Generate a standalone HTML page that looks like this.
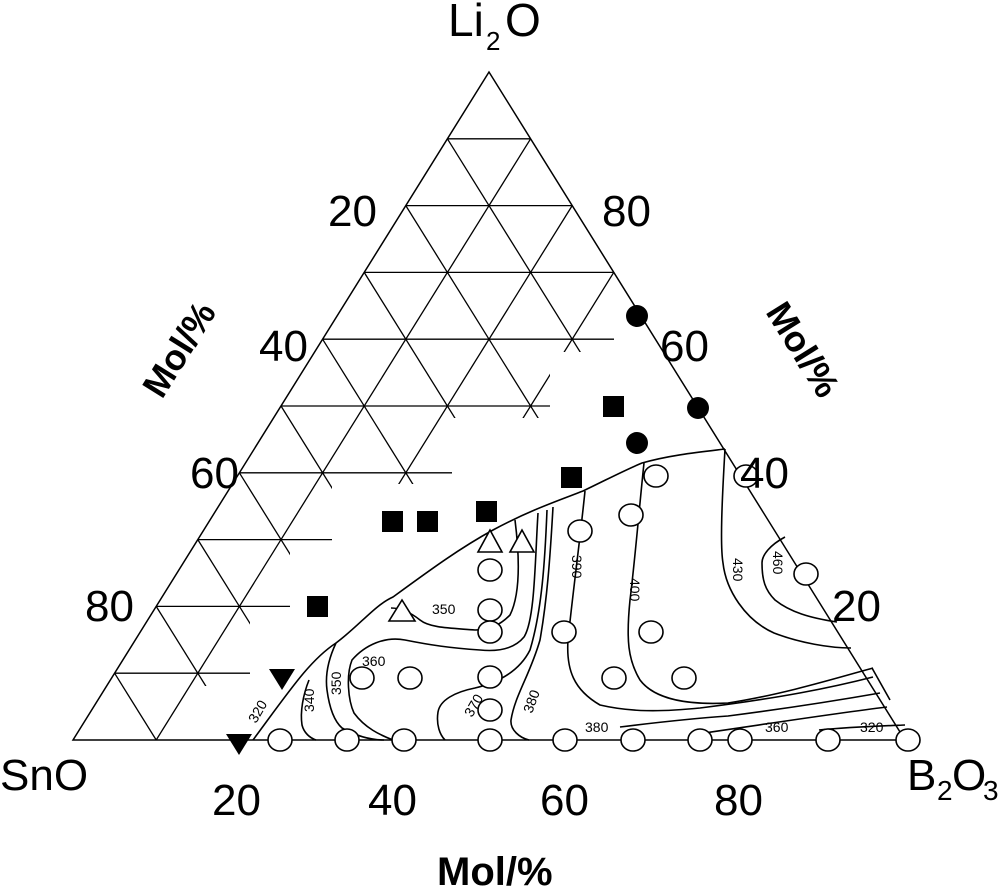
<!DOCTYPE html>
<html><head><meta charset="utf-8"><style>
html,body{margin:0;padding:0;background:#fff;}
svg{display:block;}
.big{font-family:"Liberation Sans",Arial,sans-serif;font-size:44px;fill:#000;}
.sm{font-family:"Liberation Sans",Arial,sans-serif;font-size:14px;fill:#000;}
.c{fill:none;stroke:#000;stroke-width:1.6;}
.o{fill:#fff;stroke:#000;stroke-width:1.6;}
</style></head><body>
<svg id="s" width="1000" height="891" viewBox="0 0 1000 891" xmlns="http://www.w3.org/2000/svg">
<defs>
<clipPath id="gc"><polygon points="489,72 614,274 614,352 550,352 550,418 452,418 452,484 332,484 332,550 290,550 290,618 250,618 250,686 205,686 160,740 73,740"/></clipPath>
</defs>
<g id="grid" clip-path="url(#gc)" stroke="#000" stroke-width="1.3" fill="none"></g>
<polygon points="489,72 73,740 905,740" fill="none" stroke="#000" stroke-width="1.5"/>

<path class="c" d="M253,740 C290,690 310,660 336,643 C360,625 375,605 393,597 C430,570 460,548 493,530 C530,510 560,500 583,491 C610,478 625,470 642,463 C670,455 700,452 725,449"/>
<path class="c" d="M725,449 C722,500 720,545 723,563 C726,590 745,620 774,633 C800,643 830,648 851,648"/>
<path class="c" d="M785,537 C770,545 762,555 762,563 C762,580 765,590 775,600 C790,612 810,618 837,622"/>
<path class="c" d="M644,463 C640,500 635,560 630,600 C626,640 628,660 640,680 C655,700 690,705 728,703 C780,695 830,680 873,668"/>
<path class="c" d="M585,491 C580,540 572,600 568,640 C566,670 574,690 600,705 C630,712 660,712 700,708 C780,698 830,688 873,677"/>
<path class="c" d="M553,507 C550,560 547,600 540,640 C530,675 515,695 511,720 C510,730 520,738 529,740"/>
<path class="c" d="M620,727 C660,722 700,718 728,716 C790,708 840,700 880,693"/>
<path class="c" d="M547,510 C545,560 542,610 530,650 C520,670 500,682 475,688 C455,692 440,700 438,712 C436,725 440,735 445,740"/>
<path class="c" d="M538,513 C535,560 535,620 524,637 C515,648 500,652 480,650 C450,648 430,645 405,640 C385,636 365,645 352,660 C346,675 348,700 354,713 C365,728 380,735 393,740"/>
<path class="c" d="M515,520 C520,560 520,595 510,615 C500,625 490,630 475,630 C450,628 430,628 420,620 C410,612 400,608 391,608"/>
<path class="c" d="M336,643 C328,660 325,675 327,690 C329,705 333,720 342,728 C360,738 375,740 384,740"/>
<path class="c" d="M309,680 C303,695 300,712 302,725 C304,733 310,738 316,740"/>
<path class="c" d="M697,734 C760,725 830,714 887,707"/>
<path class="c" d="M819,730 C850,727 880,726 905,725"/>
<path class="c" d="M872,668 L890,700"/>

<g class="sm">
<text x="432" y="614">350</text>
<text x="362" y="666">360</text>
<text transform="translate(314,712) rotate(-90)">340</text>
<text transform="translate(341,695) rotate(-90)">350</text>
<text transform="translate(256,724) rotate(-60)">320</text>
<text transform="translate(472,718) rotate(-60)">370</text>
<text transform="translate(532,714) rotate(-70)">380</text>
<text transform="translate(572,555) rotate(90)">390</text>
<text transform="translate(630,578) rotate(90)">400</text>
<text transform="translate(733,558) rotate(90)">430</text>
<text transform="translate(773,551) rotate(90)">460</text>
<text x="585" y="732">380</text>
<text x="765" y="732">360</text>
<text x="860" y="732">320</text>
</g>

<g class="o">
<ellipse cx="280" cy="740" rx="12" ry="11"/><ellipse cx="347" cy="740" rx="12" ry="11"/>
<ellipse cx="404" cy="740" rx="12" ry="11"/><ellipse cx="490" cy="740" rx="12" ry="11"/>
<ellipse cx="565" cy="740" rx="12" ry="11"/><ellipse cx="633" cy="740" rx="12" ry="11"/>
<ellipse cx="700" cy="740" rx="12" ry="11"/><ellipse cx="740" cy="740" rx="12" ry="11"/>
<ellipse cx="828" cy="740" rx="12" ry="11"/><ellipse cx="908" cy="740" rx="12" ry="11"/>
<ellipse cx="656" cy="476" rx="12" ry="11"/><ellipse cx="746" cy="476" rx="12" ry="11"/>
<ellipse cx="631" cy="515" rx="12" ry="11"/><ellipse cx="580" cy="531" rx="12" ry="11"/>
<ellipse cx="490" cy="570" rx="12" ry="11"/><ellipse cx="490" cy="610" rx="12" ry="11"/>
<ellipse cx="490" cy="632" rx="12" ry="11"/><ellipse cx="564" cy="632" rx="12" ry="11"/>
<ellipse cx="651" cy="632" rx="12" ry="11"/><ellipse cx="806" cy="574" rx="12" ry="11"/>
<ellipse cx="362" cy="678" rx="12" ry="11"/><ellipse cx="410" cy="678" rx="12" ry="11"/>
<ellipse cx="490" cy="677" rx="12" ry="11"/><ellipse cx="614" cy="678" rx="12" ry="11"/>
<ellipse cx="684" cy="678" rx="12" ry="11"/><ellipse cx="490" cy="710" rx="12" ry="11"/>
</g>
<g class="o">
<polygon points="490,530 478,552 502,552"/>
<polygon points="522,530 510,552 534,552"/>
<polygon points="402,600 389,621 415,621"/>
</g>
<g fill="#000">
<circle cx="637" cy="316" r="11"/><circle cx="698" cy="408" r="11"/><circle cx="637" cy="443" r="11"/>
<rect x="603" y="396" width="21" height="21"/><rect x="561" y="467" width="21" height="21"/>
<rect x="382" y="511" width="21" height="21"/><rect x="417" y="511" width="21" height="21"/>
<rect x="476" y="501" width="21" height="21"/><rect x="307" y="596" width="21" height="21"/>
<polygon points="269,669 295,669 282,690"/>
<polygon points="226,734 252,734 239,755"/>
</g>

<g class="big">
<text x="448" y="36" style="font-size:46px">Li</text>
<text x="486" y="50" style="font-size:26px">2</text>
<text x="505" y="36" style="font-size:46px">O</text>
<text x="0" y="790">SnO</text>
<text x="907" y="790">B</text><text x="937" y="800" style="font-size:28px">2</text><text x="952" y="790">O</text><text x="983" y="800" style="font-size:28px">3</text>
<text x="328" y="226">20</text><text x="259" y="361">40</text><text x="190" y="488">60</text><text x="85" y="621">80</text>
<text x="602" y="226">80</text><text x="660" y="361">60</text><text x="740" y="488">40</text><text x="832" y="621">20</text>
<text x="212" y="815">20</text><text x="368" y="815">40</text><text x="540" y="815">60</text><text x="714" y="815">80</text>
<text x="437" y="885" style="font-size:40px;font-weight:bold">Mol/%</text>
<text transform="translate(162,400) rotate(-58)" style="font-size:36px;font-weight:bold">Mol/%</text>
<text transform="translate(765,312) rotate(58)" style="font-size:36px;font-weight:bold">Mol/%</text>
</g>
</svg>
<script>
(function(){
var T=[489,72],L=[73,740],R=[905,740],g=document.getElementById('grid'),ns='http://www.w3.org/2000/svg';
function P(a,s,b){return [a*T[0]+s*L[0]+b*R[0],a*T[1]+s*L[1]+b*R[1]];}
function ln(p,q){var e=document.createElementNS(ns,'line');e.setAttribute('x1',p[0]);e.setAttribute('y1',p[1]);e.setAttribute('x2',q[0]);e.setAttribute('y2',q[1]);g.appendChild(e);}
for(var k=1;k<10;k++){var f=k/10;
ln(P(f,1-f,0),P(f,0,1-f));
ln(P(0,f,1-f),P(1-f,f,0));
ln(P(1-f,0,f),P(0,1-f,f));}
})();
</script>
</body></html>
